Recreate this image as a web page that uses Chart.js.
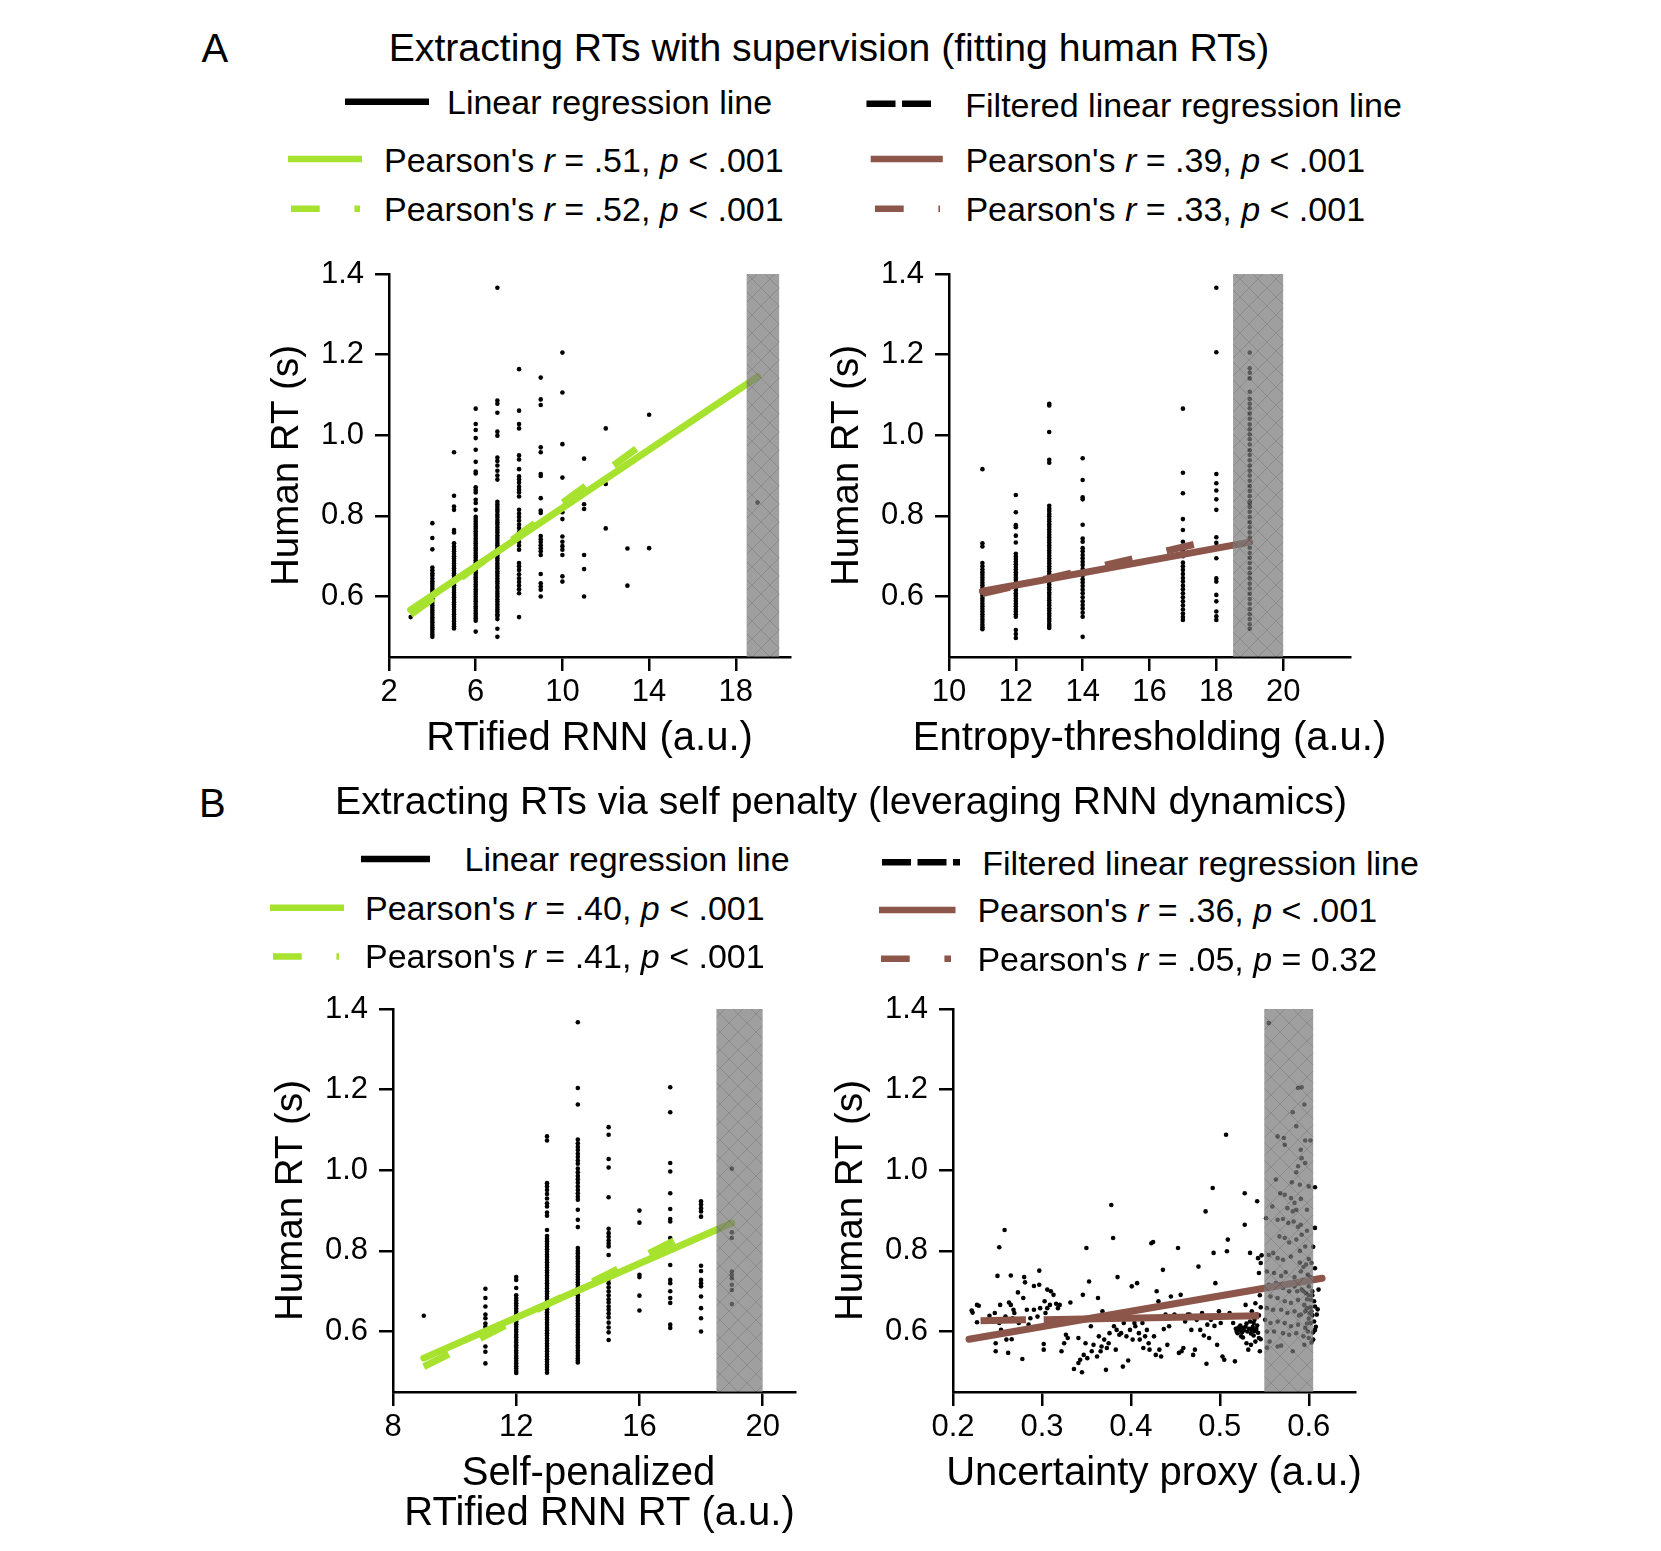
<!DOCTYPE html>
<html>
<head>
<meta charset="utf-8"/>
<title>Extracting RTs</title>
<script src="https://cdn.jsdelivr.net/npm/chart.js@4.4.1/dist/chart.umd.min.js"></script>
<style>
  body { margin: 0; background: #fff; }
  #fig { position: relative; width: 1661px; height: 1551px; font-family: "Liberation Sans", Arial, sans-serif; color: #000; }
  .txt { position: absolute; white-space: pre; line-height: 1; }
  canvas { position: absolute; }
</style>
</head>
<body>
<div id="fig"></div>
<script>
// ---- data ----
// panel A left: RTified RNN steps vs human RT
const rnnSteps = [3, 4, 5, 6, 7, 8, 9, 10, 11, 12, 13, 14, 19];
const rnnRT = [
  [0.549],
  [0.782,0.745,0.717,0.672,0.665,0.658,0.652,0.645,0.638,0.632,0.626,0.62,0.614,0.608,0.602,0.596,0.59,0.584,0.578,0.572,0.566,0.56,0.554,0.548,0.542,0.536,0.53,0.524,0.518,0.512,0.506,0.5],
  [0.958,0.85,0.823,0.815,0.765,0.759,0.732,0.724,0.718,0.712,0.706,0.7,0.694,0.688,0.682,0.676,0.67,0.664,0.658,0.652,0.646,0.64,0.634,0.628,0.622,0.616,0.61,0.604,0.598,0.592,0.586,0.58,0.574,0.568,0.562,0.556,0.55,0.544,0.538,0.532,0.526,0.521],
  [1.066,1.028,1.013,0.993,0.964,0.934,0.91,0.905,0.871,0.864,0.858,0.84,0.832,0.815,0.798,0.792,0.786,0.78,0.774,0.768,0.762,0.756,0.75,0.744,0.738,0.732,0.726,0.72,0.714,0.708,0.702,0.696,0.69,0.684,0.678,0.672,0.666,0.66,0.654,0.648,0.642,0.636,0.63,0.624,0.618,0.612,0.606,0.6,0.594,0.588,0.582,0.576,0.57,0.564,0.558,0.552,0.546,0.54,0.513],
  [1.366,1.086,1.078,1.056,1.009,0.999,0.945,0.936,0.925,0.912,0.9,0.89,0.835,0.829,0.822,0.816,0.81,0.803,0.797,0.79,0.784,0.778,0.771,0.765,0.759,0.752,0.746,0.74,0.733,0.727,0.72,0.714,0.708,0.701,0.695,0.689,0.682,0.676,0.67,0.663,0.657,0.651,0.644,0.638,0.632,0.625,0.619,0.612,0.606,0.6,0.593,0.587,0.581,0.574,0.568,0.562,0.556,0.552,0.544,0.52,0.5],
  [1.164,1.061,1.028,1.017,0.95,0.94,0.916,0.898,0.89,0.882,0.872,0.865,0.858,0.848,0.815,0.806,0.797,0.788,0.778,0.77,0.76,0.752,0.745,0.735,0.726,0.716,0.683,0.675,0.666,0.655,0.645,0.636,0.627,0.618,0.608,0.549],
  [1.143,1.089,1.075,0.97,0.958,0.904,0.899,0.844,0.813,0.807,0.75,0.742,0.735,0.727,0.72,0.712,0.703,0.656,0.633,0.625,0.617,0.6],
  [1.205,1.106,0.978,0.895,0.809,0.792,0.749,0.736,0.725,0.716,0.703,0.65,0.637],
  [0.942,0.829,0.817,0.703,0.668,0.6],
  [1.017,0.879,0.769],
  [0.719,0.627],
  [1.051,0.72],
  [0.833]
];
const rnnFitX = [3, 19], rnnFitY = [0.567, 1.145];
const rnnFiltX = [3, 14], rnnFiltY = [0.555, 0.99];

// panel A right: entropy thresholding vs human RT
const entSteps = [11, 12, 13, 14, 17, 18, 19];
const entRT = [
  [0.916,0.732,0.724,0.683,0.675,0.667,0.66,0.654,0.647,0.641,0.634,0.628,0.621,0.615,0.608,0.602,0.595,0.589,0.582,0.576,0.569,0.563,0.556,0.55,0.543,0.537,0.53,0.524,0.519],
  [0.852,0.809,0.777,0.772,0.751,0.734,0.706,0.699,0.693,0.686,0.68,0.673,0.667,0.66,0.654,0.647,0.641,0.634,0.628,0.621,0.615,0.608,0.602,0.595,0.589,0.582,0.576,0.569,0.563,0.556,0.55,0.517,0.507,0.497],
  [1.078,1.074,1.008,0.939,0.932,0.825,0.818,0.812,0.805,0.799,0.792,0.786,0.779,0.773,0.766,0.76,0.753,0.747,0.74,0.734,0.727,0.721,0.714,0.708,0.701,0.695,0.688,0.682,0.675,0.669,0.662,0.656,0.649,0.643,0.636,0.63,0.623,0.617,0.61,0.604,0.597,0.591,0.584,0.578,0.571,0.565,0.558,0.552,0.545,0.539,0.532,0.527,0.522],
  [0.943,0.889,0.846,0.841,0.778,0.744,0.736,0.72,0.712,0.703,0.695,0.686,0.678,0.668,0.66,0.652,0.643,0.635,0.626,0.617,0.608,0.598,0.588,0.579,0.57,0.56,0.55,0.5],
  [1.066,0.907,0.856,0.792,0.765,0.736,0.724,0.712,0.7,0.684,0.675,0.666,0.656,0.646,0.637,0.627,0.618,0.608,0.598,0.588,0.578,0.568,0.558,0.549,0.542],
  [1.366,1.206,0.904,0.881,0.863,0.841,0.815,0.747,0.733,0.695,0.645,0.637,0.604,0.588,0.563,0.551,0.542],
  [1.205,1.166,1.155,1.141,1.108,1.09,1.078,1.067,1.054,1.041,1.027,1.015,1.002,0.99,0.977,0.963,0.951,0.938,0.925,0.912,0.9,0.887,0.874,0.862,0.849,0.836,0.831,0.822,0.81,0.797,0.784,0.772,0.759,0.746,0.734,0.721,0.708,0.696,0.683,0.67,0.658,0.645,0.632,0.62,0.607,0.594,0.582,0.569,0.556,0.544,0.531,0.52]
];
const entFitX = [11, 19], entFitY = [0.613, 0.735];
const entFiltX = [11, 18], entFiltY = [0.607, 0.742];

// panel B left: self-penalized RTified RNN RT vs human RT
const selfSteps = [9, 11, 12, 13, 14, 15, 16, 17, 18, 19];
const selfRT = [
  [0.639],
  [0.706,0.683,0.662,0.642,0.633,0.62,0.612,0.605,0.588,0.563,0.55,0.521],
  [0.735,0.728,0.708,0.69,0.683,0.677,0.67,0.664,0.657,0.651,0.644,0.638,0.631,0.625,0.618,0.612,0.605,0.599,0.592,0.586,0.579,0.573,0.566,0.56,0.553,0.547,0.54,0.534,0.527,0.521,0.514,0.508,0.502,0.497],
  [1.084,1.074,0.968,0.96,0.951,0.941,0.93,0.918,0.91,0.895,0.887,0.852,0.837,0.83,0.824,0.817,0.811,0.804,0.798,0.791,0.785,0.778,0.772,0.765,0.759,0.752,0.746,0.739,0.733,0.726,0.72,0.713,0.707,0.7,0.694,0.687,0.681,0.674,0.668,0.661,0.655,0.648,0.642,0.635,0.629,0.622,0.616,0.609,0.603,0.596,0.59,0.583,0.577,0.57,0.564,0.557,0.551,0.544,0.538,0.531,0.525,0.518,0.512,0.505,0.498],
  [1.367,1.204,1.163,1.076,1.067,1.058,1.05,1.041,1.033,1.024,1.016,1.004,0.995,0.986,0.978,0.969,0.96,0.951,0.943,0.934,0.927,0.902,0.877,0.859,0.807,0.8,0.794,0.787,0.781,0.774,0.768,0.761,0.755,0.748,0.742,0.735,0.729,0.722,0.716,0.709,0.703,0.696,0.69,0.683,0.677,0.67,0.664,0.657,0.651,0.644,0.638,0.631,0.625,0.618,0.612,0.605,0.599,0.592,0.586,0.579,0.573,0.566,0.56,0.553,0.547,0.54,0.534,0.528,0.523],
  [1.107,1.088,1.028,1.007,0.933,0.855,0.844,0.835,0.826,0.818,0.811,0.79,0.741,0.73,0.72,0.71,0.7,0.69,0.68,0.672,0.662,0.654,0.645,0.635,0.622,0.61,0.598,0.579],
  [0.9,0.87,0.741,0.735,0.689,0.652],
  [1.206,1.144,1.018,0.997,0.943,0.904,0.879,0.873,0.832,0.765,0.728,0.72,0.7,0.683,0.671,0.617,0.609],
  [0.923,0.915,0.906,0.898,0.885,0.763,0.75,0.728,0.72,0.712,0.687,0.658,0.633,0.6],
  [1.004,0.846,0.832,0.749,0.74,0.732,0.716,0.703,0.668]
];
const selfFitX = [9, 19], selfFitY = [0.534, 0.869];
const selfFiltX = [9, 18], selfFiltY = [0.513, 0.859];

// panel B right: uncertainty proxy vs human RT, [proxy, RT]
const uncPoints = [
  [0.221,0.652],[0.222,0.647],[0.227,0.666],[0.229,0.664],[0.227,0.623],[0.241,0.639],[0.247,0.646],[0.248,0.571],[0.248,0.551],[0.250,0.738],
  [0.252,0.809],[0.252,0.621],[0.253,0.666],[0.254,0.604],[0.258,0.852],[0.259,0.637],[0.260,0.580],[0.262,0.547],[0.263,0.672],[0.265,0.739],
  [0.265,0.666],[0.266,0.581],[0.267,0.633],[0.268,0.654],[0.269,0.646],[0.273,0.697],[0.274,0.621],[0.278,0.532],[0.279,0.683],[0.280,0.735],
  [0.281,0.722],[0.283,0.654],[0.285,0.617],[0.287,0.633],[0.291,0.654],[0.291,0.713],[0.295,0.637],[0.297,0.716],[0.297,0.751],[0.298,0.658],
  [0.302,0.569],[0.302,0.555],[0.303,0.675],[0.304,0.646],[0.306,0.704],[0.306,0.658],[0.309,0.666],[0.310,0.700],[0.313,0.691],[0.316,0.669],
  [0.318,0.658],[0.320,0.666],[0.322,0.551],[0.325,0.571],[0.327,0.592],[0.329,0.584],[0.332,0.672],[0.336,0.507],[0.341,0.584],[0.341,0.522],
  [0.343,0.530],[0.345,0.499],[0.347,0.542],[0.349,0.571],[0.346,0.691],[0.351,0.534],[0.353,0.724],[0.355,0.613],[0.356,0.551],[0.358,0.567],
  [0.350,0.807],[0.360,0.637],[0.362,0.538],[0.363,0.683],[0.364,0.588],[0.366,0.551],[0.367,0.563],[0.368,0.650],[0.370,0.580],[0.372,0.505],
  [0.373,0.559],[0.375,0.571],[0.376,0.596],[0.378,0.914],[0.380,0.832],[0.381,0.613],[0.383,0.555],[0.384,0.604],[0.385,0.735],[0.387,0.592],
  [0.389,0.596],[0.391,0.513],[0.392,0.621],[0.395,0.588],[0.397,0.528],[0.399,0.604],[0.401,0.712],[0.402,0.580],[0.404,0.621],[0.405,0.613],
  [0.407,0.720],[0.409,0.596],[0.410,0.580],[0.413,0.621],[0.414,0.559],[0.416,0.588],[0.418,0.604],[0.420,0.571],[0.421,0.555],[0.423,0.819],
  [0.425,0.822],[0.426,0.588],[0.428,0.542],[0.429,0.700],[0.431,0.675],[0.432,0.555],[0.434,0.538],[0.436,0.753],[0.437,0.606],[0.439,0.642],
  [0.441,0.567],[0.443,0.613],[0.445,0.687],[0.449,0.642],[0.453,0.807],[0.454,0.547],[0.456,0.691],[0.457,0.551],[0.459,0.559],[0.461,0.625],
  [0.464,0.642],[0.466,0.642],[0.468,0.604],[0.470,0.542],[0.472,0.555],[0.474,0.629],[0.476,0.761],[0.478,0.604],[0.480,0.646],[0.482,0.590],
  [0.484,0.898],[0.485,0.520],[0.486,0.617],[0.488,0.584],[0.490,0.629],[0.492,0.956],[0.493,0.795],[0.494,0.614],[0.495,0.720],[0.497,0.567],
  [0.499,0.650],[0.501,0.621],[0.503,0.538],[0.505,0.530],[0.507,1.088],[0.508,0.799],[0.509,0.828],[0.511,0.646],[0.515,0.621],[0.517,0.526],
  [0.519,0.600],[0.520,0.596],[0.522,0.604],[0.524,0.588],[0.526,0.609],[0.528,0.943],[0.528,0.865],[0.529,0.666],[0.530,0.571],[0.532,0.555],
  [0.534,0.795],[0.535,0.567],[0.536,0.604],[0.538,0.621],[0.539,0.629],[0.540,0.670],[0.541,0.642],[0.542,0.923],[0.543,0.782],[0.544,0.584],
  [0.545,0.551],[0.546,0.581],[0.521,0.610],[0.523,0.615],[0.525,0.598],[0.527,0.603],[0.529,0.612],[0.531,0.600],[0.533,0.607],[0.535,0.595],
  [0.537,0.611],[0.539,0.601],[0.541,0.606],[0.543,0.597],[0.530,0.620],[0.534,0.625],[0.538,0.590],[0.526,0.585],[0.542,0.615],[0.518,0.607],
  [0.532,0.640],[0.536,0.650],[0.540,0.575],[0.544,0.640],[0.546,0.660],[0.545,0.690],[0.544,0.745],[0.547,0.789],[0.546,0.770],
  // inside the grey band
  [0.555,1.365],[0.588,1.204],[0.592,1.206],[0.595,1.163],[0.582,1.144],[0.586,1.109],[0.565,1.084],[0.572,1.080],[0.573,1.063],[0.596,1.074],
  [0.602,1.074],[0.591,1.051],[0.592,1.030],[0.596,1.018],[0.588,1.010],[0.586,0.995],[0.581,0.970],[0.590,0.964],[0.600,0.960],[0.607,0.958],
  [0.563,0.977],[0.568,0.943],[0.573,0.939],[0.580,0.931],[0.584,0.919],[0.591,0.929],[0.559,0.910],[0.576,0.906],[0.582,0.898],[0.586,0.902],
  [0.598,0.902],[0.552,0.881],[0.565,0.877],[0.571,0.879],[0.577,0.869],[0.583,0.873],[0.591,0.865],[0.607,0.857],[0.567,0.836],[0.573,0.832],
  [0.578,0.821],[0.586,0.828],[0.596,0.811],[0.560,0.795],[0.555,0.790],[0.565,0.782],[0.571,0.778],[0.580,0.786],[0.590,0.771],[0.597,0.766],
  [0.603,0.770],[0.607,0.757],[0.553,0.749],[0.561,0.745],[0.569,0.738],[0.574,0.747],[0.584,0.735],[0.591,0.749],[0.599,0.741],[0.605,0.728],
  [0.611,0.704],[0.555,0.716],[0.563,0.720],[0.571,0.708],[0.578,0.700],[0.584,0.712],[0.592,0.704],[0.600,0.712],[0.557,0.687],[0.565,0.683],
  [0.573,0.675],[0.580,0.671],[0.588,0.679],[0.595,0.666],[0.602,0.679],[0.607,0.662],[0.553,0.658],[0.560,0.654],[0.569,0.654],[0.576,0.646],
  [0.584,0.650],[0.591,0.642],[0.598,0.658],[0.603,0.650],[0.609,0.642],[0.551,0.629],[0.557,0.621],[0.565,0.625],[0.573,0.621],[0.580,0.613],
  [0.588,0.617],[0.596,0.609],[0.602,0.621],[0.607,0.604],[0.553,0.600],[0.561,0.600],[0.571,0.596],[0.578,0.592],[0.586,0.596],[0.594,0.588],
  [0.600,0.584],[0.605,0.580],[0.565,0.563],[0.569,0.565],[0.582,0.551],[0.595,0.567],[0.603,0.573],[0.553,0.560],[0.556,0.575],
  [0.600,0.690],[0.604,0.700],[0.598,0.680],[0.606,0.675],[0.602,0.660],[0.596,0.650],[0.604,0.640],[0.600,0.632],[0.606,0.625],[0.598,0.620],
  [0.594,0.700],[0.596,0.725],[0.602,0.735],[0.594,0.760],[0.600,0.780],[0.590,0.800],[0.605,0.810],[0.592,0.840],[0.598,0.850],[0.588,0.860],
  [0.604,0.690],[0.608,0.612],[0.610,0.655],[0.589,0.640],[0.587,0.700],[0.593,0.728],[0.597,0.695],[0.601,0.645],[0.605,0.598],[0.599,0.600]
];
const uncFitX = [0.218, 0.615], uncFitY = [0.581, 0.732];
// the filtered fit shows as two pieces with a short break
const uncFiltX = [0.231, 0.282, null, 0.302, 0.544], uncFiltY = [0.627, 0.629, null, 0.6295, 0.639];

// excluded (grey) ranges on each x axis
const bandFrom = [18.5, 18.5, 18.5, 0.55];
const bandTo = [20, 20, 20, 0.605];

// axis ranges and ticks
const xMin = [2, 10, 8, 0.2];
const xMax = [20.5, 22, 21.05, 0.652];
const xTicks = [[2, 6, 10, 14, 18], [10, 12, 14, 16, 18, 20], [8, 12, 16, 20], [0.2, 0.3, 0.4, 0.5, 0.6]];
const yTicks = [0.6, 0.8, 1.0, 1.2, 1.4];
const yMin = 0.45, yMax = 1.4;

const xTitles = [
  ['RTified RNN (a.u.)'],
  ['Entropy-thresholding (a.u.)'],
  ['Self-penalized ', ' RTified RNN RT (a.u.)'],
  ['Uncertainty proxy (a.u.)']
];
const yTitle = 'Human RT (s)';

// legend texts
const headA = ['Linear regression line', 'Filtered linear regression line'];
const rValsA = ['.51', '.52', '.39', '.33'];
const pValsA = ['< .001', '< .001', '< .001', '< .001'];
const rValsB = ['.40', '.41', '.36', '.05'];
const pValsB = ['< .001', '< .001', '< .001', '= 0.32'];
const titleA = 'Extracting RTs with supervision (fitting human RTs)';
const titleB = 'Extracting RTs via self penalty (leveraging RNN dynamics)';

// ---- drawing ----
const FONT = '"Liberation Sans", Arial, sans-serif';
const GREEN = 'rgb(166,226,46)';
const BROWN = 'rgb(140,86,75)';
const fig = document.getElementById('fig');

// plot areas in page pixels
const AREAS = [
  {l: 389, t: 274, r: 790, b: 657},
  {l: 949, t: 274, r: 1350, b: 657},
  {l: 393, t: 1009, r: 795, b: 1392},
  {l: 953, t: 1009, r: 1355, b: 1392}
];
const PL = 150, PT = 40, PR = 70, PB = 170;

function text(html, x, baseline, size, opts) {
  opts = opts || {};
  const d = document.createElement('div');
  d.className = 'txt';
  d.innerHTML = html;
  d.style.fontSize = size + 'px';
  d.style.top = (baseline - 0.8465 * size) + 'px';
  d.style.left = x + 'px';
  if (opts.center) d.style.transform = 'translateX(-50%)';
  fig.appendChild(d);
}

function pearson(r, p) {
  return "Pearson's <i>r</i> = " + r + ', <i>p</i> ' + p.replace('<', '&lt;');
}

// hatch tile for the excluded band
function makeHatch() {
  const c = document.createElement('canvas');
  c.width = 18; c.height = 18;
  const g = c.getContext('2d');
  g.fillStyle = 'rgb(124,124,124)';
  g.fillRect(0, 0, 18, 18);
  g.strokeStyle = 'rgb(96,96,96)';
  g.lineWidth = 1;
  g.beginPath();
  g.moveTo(0, 0); g.lineTo(18, 18);
  g.moveTo(18, 0); g.lineTo(0, 18);
  g.stroke();
  return c;
}
const hatchCanvas = makeHatch();

const bandPlugin = {
  id: 'band',
  afterDatasetsDraw(chart, args, opts) {
    const {ctx, chartArea, scales} = chart;
    const x0 = scales.x.getPixelForValue(opts.from);
    const x1 = scales.x.getPixelForValue(opts.to);
    ctx.save();
    ctx.globalAlpha = 0.73;
    ctx.fillStyle = ctx.createPattern(hatchCanvas, 'repeat');
    ctx.fillRect(x0, chartArea.top, x1 - x0, chartArea.bottom - chartArea.top);
    ctx.restore();
  }
};

// x axis title drawn without width squeezing
const xTitlePlugin = {
  id: 'xTitle',
  afterDraw(chart, args, opts) {
    const {ctx, chartArea} = chart;
    ctx.save();
    ctx.font = '40px ' + FONT;
    ctx.fillStyle = '#000';
    ctx.textAlign = 'center';
    ctx.textBaseline = 'alphabetic';
    const cx = (chartArea.left + chartArea.right) / 2;
    opts.lines.forEach((ln, k) => ctx.fillText(ln, cx, chartArea.bottom + 93 + k * 40.4));
    ctx.restore();
  }
};

function colPoints(xs, cols) {
  const pts = [];
  xs.forEach((x, i) => cols[i].forEach(y => pts.push({x: x, y: y})));
  return pts;
}
function seg(xs, ys) { return xs.map((x, i) => ({x: x, y: ys[i]})); }

function makePanel(i, points, fit, filt, filtDash, color, xFmt) {
  const a = AREAS[i];
  const cv = document.createElement('canvas');
  const w = a.r - a.l + PL + PR, h = a.b - a.t + PT + PB;
  cv.width = w; cv.height = h;
  cv.style.left = (a.l - PL) + 'px';
  cv.style.top = (a.t - PT) + 'px';
  cv.style.width = w + 'px';
  cv.style.height = h + 'px';
  fig.appendChild(cv);

  const axisCommon = {
    grid: {display: true, drawOnChartArea: false, drawTicks: true, tickLength: 14, color: '#000', lineWidth: 2.5},
    border: {display: true, color: '#000', width: 2.5},
  };

  new Chart(cv, {
    type: 'scatter',
    data: {
      datasets: [
        {type: 'line', data: filt, borderColor: color, borderWidth: 7, borderDash: filtDash, borderCapStyle: 'butt', pointRadius: 0, fill: false, tension: 0, spanGaps: false},
        {type: 'line', data: fit, borderColor: color, borderWidth: 7, borderCapStyle: 'round', pointRadius: 0, fill: false, tension: 0},
        {data: points, backgroundColor: '#000', borderWidth: 0, pointRadius: 2.3, pointHoverRadius: 2.3}
      ]
    },
    options: {
      responsive: false,
      animation: false,
      devicePixelRatio: 1,
      layout: {padding: {left: 0, top: PT, right: PR, bottom: 0}},
      plugins: {
        legend: {display: false}, tooltip: {enabled: false},
        band: {from: bandFrom[i], to: bandTo[i]},
        xTitle: {lines: xTitles[i]}
      },
      scales: {
        x: Object.assign({}, axisCommon, {
          type: 'linear', min: xMin[i], max: xMax[i],
          afterBuildTicks: s => { s.ticks = xTicks[i].map(v => ({value: v})); },
          afterFit: s => { s.height = PB; },
          ticks: {color: '#000', font: {family: FONT, size: 31}, padding: 3, maxRotation: 0, autoSkip: false, callback: xFmt},
          title: {display: false}
        }),
        y: Object.assign({}, axisCommon, {
          type: 'linear', min: yMin, max: yMax,
          afterBuildTicks: s => { s.ticks = yTicks.map(v => ({value: v})); },
          afterFit: s => { s.width = PL; },
          ticks: {color: '#000', font: {family: FONT, size: 31}, padding: 11, autoSkip: false, callback: v => v.toFixed(1)},
          title: {display: true, text: yTitle, color: '#000', font: {family: FONT, size: 38.5, lineHeight: 1}, padding: {top: 29, bottom: 0}}
        })
      }
    },
    plugins: [bandPlugin, xTitlePlugin]
  });
}

const intFmt = v => String(Math.round(v));
const DASH = [28, 35];
makePanel(0, colPoints(rnnSteps, rnnRT), seg(rnnFitX, rnnFitY), seg(rnnFiltX, rnnFiltY), DASH, GREEN, intFmt);
makePanel(1, colPoints(entSteps, entRT), seg(entFitX, entFitY), seg(entFiltX, entFiltY), DASH, BROWN, intFmt);
makePanel(2, colPoints(selfSteps, selfRT), seg(selfFitX, selfFitY), seg(selfFiltX, selfFiltY), DASH, GREEN, intFmt);
makePanel(3, uncPoints.map(p => ({x: p[0], y: p[1]})), seg(uncFitX, uncFitY), seg(uncFiltX, uncFiltY), [], BROWN, v => v.toFixed(1));

// ---- titles ----
text('A', 201.5, 61.5, 40);
text(titleA, 829, 61, 39.2, {center: true});
text('B', 199, 816.5, 40);
text(titleB, 841, 814.5, 39.2, {center: true});

// ---- legends ----
const LSZ = 34;
text(headA[0], 447, 113.3, LSZ);
text(headA[1], 965.3, 116.5, LSZ);
text(pearson(rValsA[0], pValsA[0]), 384, 171.6, LSZ);
text(pearson(rValsA[2], pValsA[2]), 965.4, 171.6, LSZ);
text(pearson(rValsA[1], pValsA[1]), 384, 220.3, LSZ);
text(pearson(rValsA[3], pValsA[3]), 965.4, 220.3, LSZ);

text(headA[0], 464.5, 870.7, LSZ);
text(headA[1], 982.3, 875, LSZ);
text(pearson(rValsB[0], pValsB[0]), 365, 919.5, LSZ);
text(pearson(rValsB[2], pValsB[2]), 977.4, 921.6, LSZ);
text(pearson(rValsB[1], pValsB[1]), 365, 968.2, LSZ);
text(pearson(rValsB[3], pValsB[3]), 977.4, 970.3, LSZ);

// legend handles
const handles = [
  [345, 429, 101.7, '#000', ''], [866.5, 934, 103.8, '#000', '29 6.5'],
  [288, 362, 159, GREEN, ''], [870.7, 942.8, 159, BROWN, ''],
  [291, 360, 208.7, GREEN, '28.7 34.7'], [875, 940, 208.7, BROWN, '28.7 34.7'],
  [361, 430, 859, '#000', ''], [882, 960, 862.3, '#000', '29 6.5'],
  [270, 344, 907.8, GREEN, ''], [879, 955.5, 910, BROWN, ''],
  [273, 339, 956.5, GREEN, '28.7 34.7'], [881, 951, 958.7, BROWN, '28.7 34.7']
];
let svg = '<svg xmlns="http://www.w3.org/2000/svg" width="1661" height="1000" style="position:absolute;left:0;top:0">';
handles.forEach(hd => {
  svg += '<line x1="' + hd[0] + '" x2="' + hd[1] + '" y1="' + hd[2] + '" y2="' + hd[2] +
    '" stroke="' + hd[3] + '" stroke-width="6.5"' + (hd[4] ? ' stroke-dasharray="' + hd[4] + '"' : '') + '/>';
});
svg += '</svg>';
fig.insertAdjacentHTML('beforeend', svg);
</script>
</body>
</html>
